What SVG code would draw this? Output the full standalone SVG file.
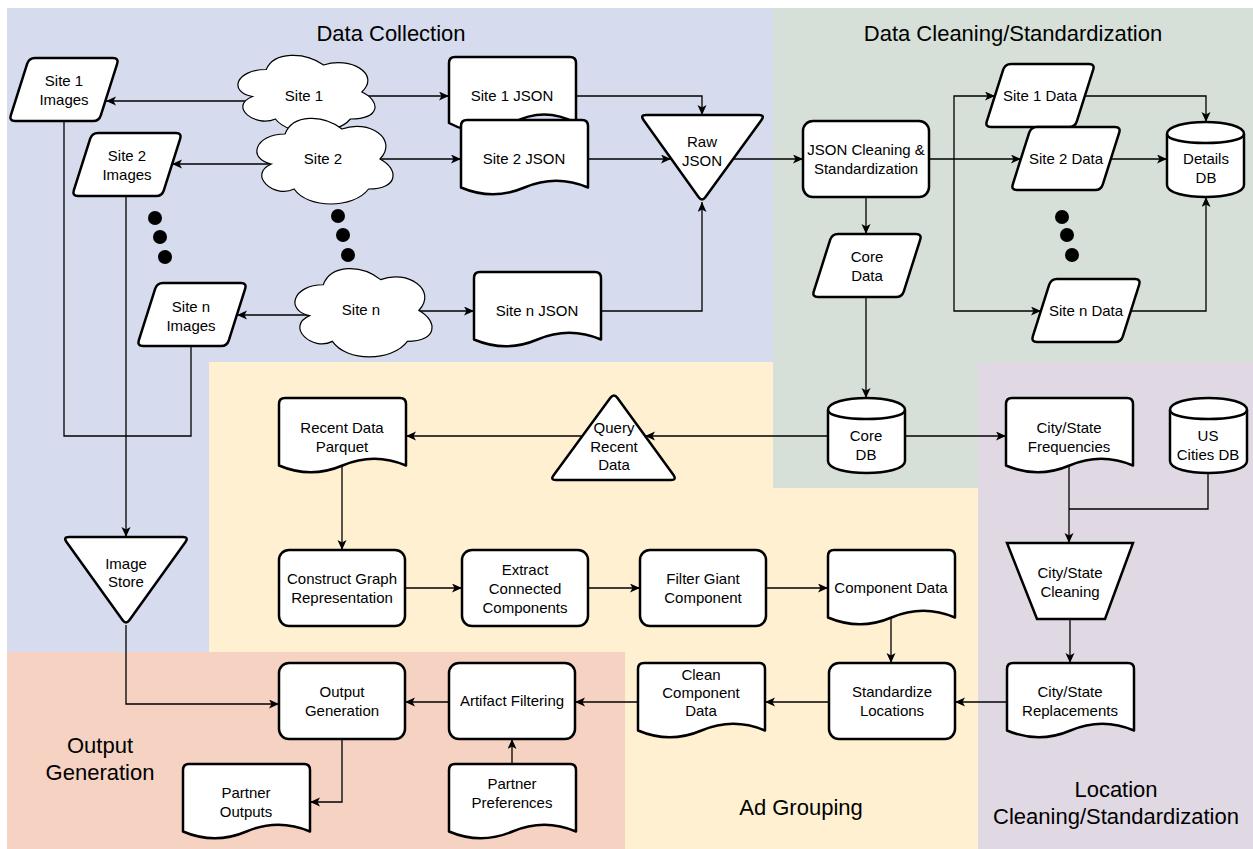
<svg xmlns="http://www.w3.org/2000/svg" xmlns:xlink="http://www.w3.org/1999/xlink" width="1253" height="849" viewBox="0 0 1253 849">
  <style>
    .node { fill: #ffffff; stroke: #000000; stroke-width: 2.5; stroke-linejoin: round; }
    .cloud { fill: #ffffff; stroke: #000000; stroke-width: 1.2; }
    .lbl { font-family: "Liberation Sans", Arial, sans-serif; font-size: 15px; fill: #000000; text-anchor: middle; }
    .title { font-family: "Liberation Sans", Arial, sans-serif; font-size: 22px; fill: #000000; text-anchor: middle; }
    .edge { fill: none; stroke: #000000; stroke-width: 1.3; }
    .arrow { marker-end: url(#arrow); }
    .dot { fill: #000000; }
  </style>
  <defs>
    <marker id="arrow" markerUnits="userSpaceOnUse" markerWidth="11" markerHeight="10" refX="10" refY="4.5" orient="auto">
      <path d="M0,0 L10,4.5 L0,9 L2.5,4.5 Z" fill="#000000"/>
    </marker>
    <!-- parallelogram 110 x 63, slant 20 -->
    <path id="para" d="M26,0 L104,0 Q110,0 108.2,5.7 L91.8,57.3 Q90,63 84,63 L6,63 Q0,63 1.8,57.3 L18.2,5.7 Q20,0 26,0 Z"/>
    <!-- document 127 x 75 with wavy bottom -->
    <path id="doc" d="M0,67.5 L0,6 Q0,0 6,0 L121,0 Q127,0 127,6 L127,67.5 Q95.25,54 63.5,67.5 Q31.75,81 0,67.5 Z"/>
    <!-- rounded process box 126 x 76 -->
    <rect id="proc" x="0" y="0" width="126" height="76" rx="10" ry="10"/>
    <!-- database cylinder 77 x 75 -->
    <g id="cyl">
      <path d="M0,12 C0,-4 77,-4 77,12 L77,63 C77,79 0,79 0,63 Z"/>
      <path d="M0,12 C0,24 77,24 77,12" fill="none"/>
    </g>
    <!-- cloud in a 100 x 100 box -->
    <path id="cloudShape" vector-effect="non-scaling-stroke" d="M25,25 C5,25 0,50 16,55 C0,66 18,90 31,80 C40,100 70,100 80,80 C100,80 100,60 87.5,50 C100,30 80,10 62.5,20 C50,5 30,5 25,25 Z"/>
  </defs>

  <!-- swimlane backgrounds -->
  <g id="lanes">
    <rect x="209" y="362" width="769" height="487" fill="#fff0d2"/>
    <path d="M773,8 H1253 V362 H978 V488 H773 Z" fill="#d6e0d8"/>
    <path d="M7,8 H773 V362 H209 V652 H7 Z" fill="#d6dcee"/>
    <rect x="7" y="652" width="618" height="197" fill="#f6d2c2"/>
    <rect x="978" y="362" width="275" height="487" fill="#e0d9e3"/>
  </g>

  <g id="lane-titles">
    <text class="title" x="391" y="41">Data Collection</text>
    <text class="title" x="1013" y="41">Data Cleaning/Standardization</text>
    <text class="title" x="801" y="815">Ad Grouping</text>
    <text class="title" x="1116" y="797">Location</text>
    <text class="title" x="1116" y="824">Cleaning/Standardization</text>
    <text class="title" x="100" y="753">Output</text>
    <text class="title" x="100" y="780">Generation</text>
  </g>

  <!-- connectors -->
  <g id="connectors">
    <path class="edge arrow" d="M248,101 L106,101"/>
    <path class="edge arrow" d="M362,96 L449,96"/>
    <path class="edge arrow" d="M270,164 L172,164"/>
    <path class="edge arrow" d="M380,159 L461,159"/>
    <path class="edge arrow" d="M309,315 L237,315"/>
    <path class="edge arrow" d="M419,311 L474,311"/>
    <path class="edge arrow" d="M576,96 L702,96 L702,115"/>
    <path class="edge arrow" d="M588,159 L671,159"/>
    <path class="edge arrow" d="M601,311 L702,311 L702,202"/>
    <path class="edge arrow" d="M733,159 L803,159"/>
    <path class="edge arrow" d="M929,159 L1021,159"/>
    <path class="edge arrow" d="M954,159 L954,96 L995,96"/>
    <path class="edge arrow" d="M954,159 L954,311 L1041,311"/>
    <path class="edge arrow" d="M1085,96 L1206,96 L1206,122"/>
    <path class="edge arrow" d="M1111,159 L1167,159"/>
    <path class="edge arrow" d="M1131,311 L1206,311 L1206,197"/>
    <path class="edge arrow" d="M866,197 L866,234"/>
    <path class="edge arrow" d="M866,297 L866,398"/>
    <path class="edge arrow" d="M828,436 L645,436"/>
    <path class="edge arrow" d="M583,436 L406,436"/>
    <path class="edge arrow" d="M905,436 L1006,436"/>
    <path class="edge arrow" d="M342,466 L342,550"/>
    <path class="edge arrow" d="M405,588 L462,588"/>
    <path class="edge arrow" d="M588,588 L640,588"/>
    <path class="edge arrow" d="M766,588 L828,588"/>
    <path class="edge arrow" d="M891,617 L891,663"/>
    <path class="edge arrow" d="M1069,466 L1069,543"/>
    <path class="edge" d="M1208,474 L1208,509 L1069,509"/>
    <path class="edge arrow" d="M1070,619 L1070,663"/>
    <path class="edge arrow" d="M1007,702 L955,702"/>
    <path class="edge arrow" d="M829,702 L765,702"/>
    <path class="edge arrow" d="M638,702 L575,702"/>
    <path class="edge arrow" d="M449,702 L405,702"/>
    <path class="edge arrow" d="M126,625 L126,704 L279,704"/>
    <path class="edge arrow" d="M342,739 L342,802 L310,802"/>
    <path class="edge arrow" d="M512,764 L512,739"/>
    <path class="edge arrow" d="M126,196 L126,537"/>
    <path class="edge" d="M64,121 L64,436 L191,436 L191,346"/>
  </g>

  <!-- Data Collection -->
  <g id="site1-cloud">
    <use xlink:href="#cloudShape" class="cloud" transform="translate(228,47) scale(1.53,0.9)"/>
    <text class="lbl" x="304" y="101">Site 1</text>
  </g>
  <g id="site2-cloud">
    <use xlink:href="#cloudShape" class="cloud" transform="translate(247,109) scale(1.52,1.0)"/>
    <text class="lbl" x="323" y="164">Site 2</text>
  </g>
  <g id="siten-cloud">
    <use xlink:href="#cloudShape" class="cloud" transform="translate(285,259) scale(1.53,1.03)"/>
    <text class="lbl" x="361" y="315">Site n</text>
  </g>

  <g id="site1-images">
    <use xlink:href="#para" class="node" x="9" y="58"/>
    <text class="lbl" x="64" y="86">Site 1</text>
    <text class="lbl" x="64" y="105">Images</text>
  </g>
  <g id="site2-images">
    <use xlink:href="#para" class="node" x="72" y="133"/>
    <text class="lbl" x="127" y="161">Site 2</text>
    <text class="lbl" x="127" y="180">Images</text>
  </g>
  <g id="siten-images">
    <use xlink:href="#para" class="node" x="137" y="283"/>
    <text class="lbl" x="191" y="312">Site n</text>
    <text class="lbl" x="191" y="331">Images</text>
  </g>

  <g id="ellipsis-images">
    <circle class="dot" cx="155" cy="218" r="7"/>
    <circle class="dot" cx="160" cy="237" r="7"/>
    <circle class="dot" cx="165" cy="257" r="7"/>
  </g>
  <g id="ellipsis-sites">
    <circle class="dot" cx="338" cy="216" r="7"/>
    <circle class="dot" cx="343" cy="235" r="7"/>
    <circle class="dot" cx="348" cy="255" r="7"/>
  </g>

  <g id="site1-json">
    <path class="node" d="M449,123 L449,63 Q449,57 455,57 L570,57 Q576,57 576,63 L576,123 Q544,106 512.5,123 Q481,140 449,123 Z"/>
    <text class="lbl" x="512" y="101">Site 1 JSON</text>
  </g>
  <g id="site2-json">
    <use xlink:href="#doc" class="node" x="461" y="120"/>
    <text class="lbl" x="524" y="164">Site 2 JSON</text>
  </g>
  <g id="siten-json">
    <use xlink:href="#doc" class="node" x="474" y="272"/>
    <text class="lbl" x="537" y="316">Site n JSON</text>
  </g>

  <g id="raw-json">
    <path class="node" d="M646,115 L759,115 Q765,115 761.5,119.9 L705.5,197.1 Q702,202 698.5,197.1 L643.5,119.9 Q640,115 646,115 Z"/>
    <text class="lbl" x="702" y="147">Raw</text>
    <text class="lbl" x="702" y="166">JSON</text>
  </g>

  <g id="image-store">
    <path class="node" d="M69,537 L183,537 Q189,537 185.5,541.9 L129.5,620.1 Q126,625 122.5,620.1 L66.5,541.9 Q63,537 69,537 Z"/>
    <text class="lbl" x="126" y="569">Image</text>
    <text class="lbl" x="126" y="587">Store</text>
  </g>

  <!-- Data Cleaning/Standardization -->
  <g id="json-cleaning">
    <use xlink:href="#proc" class="node" x="803" y="121"/>
    <text class="lbl" x="866" y="155">JSON Cleaning &amp;</text>
    <text class="lbl" x="866" y="174">Standardization</text>
  </g>
  <g id="site1-data">
    <use xlink:href="#para" class="node" x="985" y="64"/>
    <text class="lbl" x="1040" y="101">Site 1 Data</text>
  </g>
  <g id="site2-data">
    <use xlink:href="#para" class="node" x="1011" y="127"/>
    <text class="lbl" x="1066" y="164">Site 2 Data</text>
  </g>
  <g id="ellipsis-data">
    <circle class="dot" cx="1062" cy="217" r="7"/>
    <circle class="dot" cx="1067" cy="235" r="7"/>
    <circle class="dot" cx="1072" cy="255" r="7"/>
  </g>
  <g id="siten-data">
    <use xlink:href="#para" class="node" x="1031" y="279"/>
    <text class="lbl" x="1086" y="316">Site n Data</text>
  </g>
  <g id="details-db">
    <use xlink:href="#cyl" class="node" x="1167" y="122"/>
    <text class="lbl" x="1206" y="164">Details</text>
    <text class="lbl" x="1206" y="183">DB</text>
  </g>
  <g id="core-data">
    <use xlink:href="#para" class="node" x="812" y="234"/>
    <text class="lbl" x="867" y="262">Core</text>
    <text class="lbl" x="867" y="281">Data</text>
  </g>
  <g id="core-db">
    <use xlink:href="#cyl" class="node" x="828" y="398"/>
    <text class="lbl" x="866" y="441">Core</text>
    <text class="lbl" x="866" y="460">DB</text>
  </g>

  <!-- Ad Grouping -->
  <g id="query-recent-data">
    <path class="node" d="M610.4,397.8 Q614,393 617.5,397.9 L673.5,475.1 Q677,480 671,480 L556,480 Q550,480 553.6,475.2 Z"/>
    <text class="lbl" x="614" y="433">Query</text>
    <text class="lbl" x="614" y="452">Recent</text>
    <text class="lbl" x="614" y="470">Data</text>
  </g>
  <g id="recent-data-parquet">
    <use xlink:href="#doc" class="node" x="279" y="398"/>
    <text class="lbl" x="342" y="433">Recent Data</text>
    <text class="lbl" x="342" y="452">Parquet</text>
  </g>
  <g id="construct-graph">
    <use xlink:href="#proc" class="node" x="279" y="550"/>
    <text class="lbl" x="342" y="584">Construct Graph</text>
    <text class="lbl" x="342" y="603">Representation</text>
  </g>
  <g id="extract-components">
    <use xlink:href="#proc" class="node" x="462" y="550"/>
    <text class="lbl" x="525" y="575">Extract</text>
    <text class="lbl" x="525" y="594">Connected</text>
    <text class="lbl" x="525" y="613">Components</text>
  </g>
  <g id="filter-giant">
    <use xlink:href="#proc" class="node" x="640" y="550"/>
    <text class="lbl" x="703" y="584">Filter Giant</text>
    <text class="lbl" x="703" y="603">Component</text>
  </g>
  <g id="component-data">
    <use xlink:href="#doc" class="node" x="828" y="550"/>
    <text class="lbl" x="891" y="593">Component Data</text>
  </g>
  <g id="standardize-locations">
    <use xlink:href="#proc" class="node" x="829" y="663"/>
    <text class="lbl" x="892" y="697">Standardize</text>
    <text class="lbl" x="892" y="716">Locations</text>
  </g>
  <g id="clean-component-data">
    <use xlink:href="#doc" class="node" x="638" y="663"/>
    <text class="lbl" x="701" y="680">Clean</text>
    <text class="lbl" x="701" y="698">Component</text>
    <text class="lbl" x="701" y="716">Data</text>
  </g>

  <!-- Location Cleaning/Standardization -->
  <g id="city-state-frequencies">
    <use xlink:href="#doc" class="node" x="1006" y="398"/>
    <text class="lbl" x="1069" y="433">City/State</text>
    <text class="lbl" x="1069" y="452">Frequencies</text>
  </g>
  <g id="us-cities-db">
    <use xlink:href="#cyl" class="node" x="1170" y="398"/>
    <text class="lbl" x="1208" y="441">US</text>
    <text class="lbl" x="1208" y="460">Cities DB</text>
  </g>
  <g id="city-state-cleaning">
    <path class="node" style="stroke-linejoin:miter" d="M1007,543 L1133,543 L1105,619 L1037,619 Z"/>
    <text class="lbl" x="1070" y="578">City/State</text>
    <text class="lbl" x="1070" y="597">Cleaning</text>
  </g>
  <g id="city-state-replacements">
    <use xlink:href="#doc" class="node" x="1007" y="663"/>
    <text class="lbl" x="1070" y="697">City/State</text>
    <text class="lbl" x="1070" y="716">Replacements</text>
  </g>

  <!-- Output Generation -->
  <g id="output-generation">
    <use xlink:href="#proc" class="node" x="279" y="663"/>
    <text class="lbl" x="342" y="697">Output</text>
    <text class="lbl" x="342" y="716">Generation</text>
  </g>
  <g id="artifact-filtering">
    <use xlink:href="#proc" class="node" x="449" y="663"/>
    <text class="lbl" x="512" y="706">Artifact Filtering</text>
  </g>
  <g id="partner-outputs">
    <use xlink:href="#doc" class="node" x="183" y="764"/>
    <text class="lbl" x="246" y="798">Partner</text>
    <text class="lbl" x="246" y="817">Outputs</text>
  </g>
  <g id="partner-preferences">
    <use xlink:href="#doc" class="node" x="449" y="764"/>
    <text class="lbl" x="512" y="789">Partner</text>
    <text class="lbl" x="512" y="808">Preferences</text>
  </g>
</svg>
